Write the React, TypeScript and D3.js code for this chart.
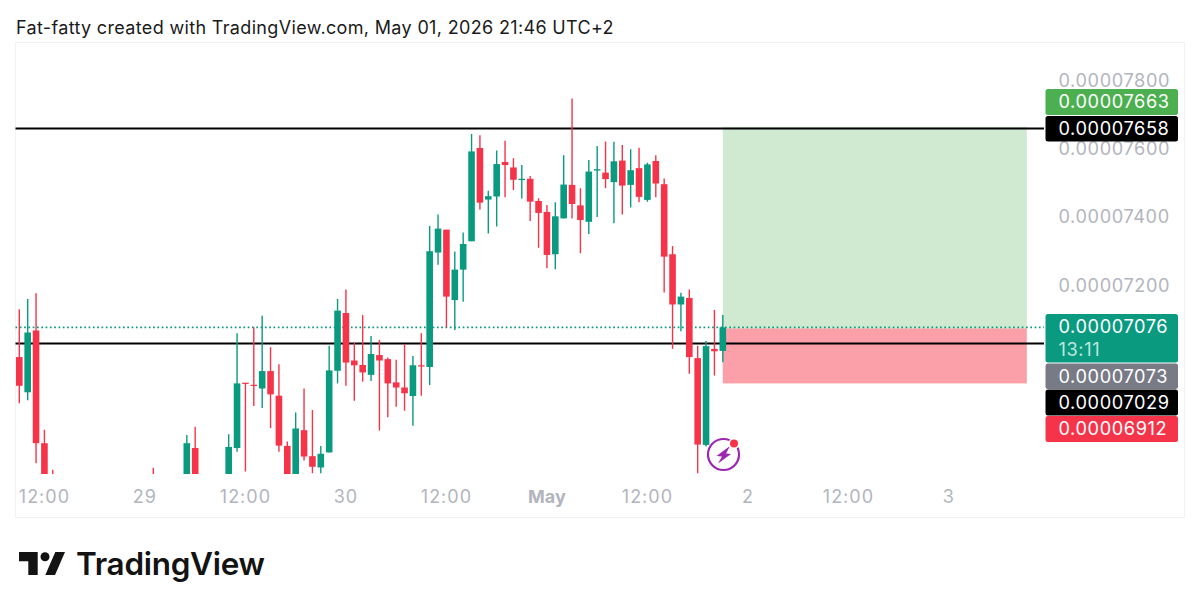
import React from "react";
import * as d3 from "d3";

const TITLE = "Fat-fatty created with TradingView.com, May 01, 2026 21:46 UTC+2";
const FONT = "Inter, 'Noto Sans', sans-serif";

// Prices are in units of 1e-8. Hours off the visible range (below the pane) are omitted.
const hours = [0,1,2,3,4,16,20,21,25,26,27,28,29,30,31,32,33,34,35,36,37,38,39,40,41,42,43,44,45,46,47,48,49,50,51,52,53,54,55,56,57,58,59,60,61,62,63,64,65,66,67,68,69,70,71,72,73,74,75,76,77,78,79,80,81,82,83,84];
const opens = [6989,6886,7067,6737,6640,6640,6620,6723,6610,6723,6914,6908,6897,6948,6876,6729,6610,6775,6699,6666,6710,6949,7118,6979,6966,6937,6995,6983,6915,6900,6875,6965,6960,7295,7362,7156,7245,7328,7601,7450,7459,7560,7544,7507,7511,7446,7414,7290,7395,7493,7433,7385,7535,7529,7501,7564,7493,7542,7449,7563,7495,7290,7143,7162,6986,6732,7013,7007];
const highs = [7129,7159,7176,6776,6659,6665,6761,6785,6763,7059,6914,7076,7110,7018,6968,6742,6827,6897,6834,6729,7022,7159,7187,7031,7112,7051,7039,6988,6981,7027,6992,7059,7373,7406,7362,7298,7354,7642,7638,7476,7594,7622,7571,7551,7519,7454,7434,7442,7580,7746,7483,7566,7607,7620,7619,7610,7597,7602,7558,7580,7512,7314,7177,7187,7022,7036,7127,7112];
const lows = [6854,6863,6678,6560,6590,6600,6600,6590,6600,6712,6654,6846,6840,6781,6712,6590,6590,6686,6649,6649,6710,6912,6905,6861,6917,6919,6774,6813,6844,6832,6788,6876,6907,7259,7076,7068,7151,7328,7421,7351,7371,7457,7478,7453,7387,7309,7249,7246,7395,7395,7293,7349,7399,7483,7381,7406,7427,7442,7444,7457,7178,7013,7065,6940,6649,6727,6935,6974];
const closes = [6905,7061,6737,6600,6610,6620,6737,6610,6726,6912,6911,6905,6948,6880,6730,6610,6780,6698,6668,6706,6950,7125,6973,6965,6944,6998,6979,6912,6900,6883,6965,6962,7299,7365,7166,7245,7320,7591,7441,7460,7554,7551,7508,7511,7444,7411,7288,7401,7494,7437,7390,7532,7539,7510,7562,7491,7536,7458,7553,7497,7283,7143,7166,6989,6733,7021,7006,7076];

const yTicks = [7800, 7600, 7400, 7200];
const xTickHours = [3, 15, 27, 39, 51, 63, 75, 87, 99, 111];
const xTickLabels = ["12:00", "29", "12:00", "30", "12:00", "May", "12:00", "2", "12:00", "3"];

const levelUpper = 7658;
const levelLower = 7029;
const lastPrice = 7076;
const entryPrice = 7073;
const targetPrice = 7663;
const stopPrice = 6912;
const entryHour = 84;
const endHour = 120.3;

const GREEN = "#0A9A80";
const RED = "#F5344A";

const y = d3.scaleLinear().domain([7800, 7200]).range([80, 285]);
const x = d3.scaleLinear().domain([0, 12]).range([19.3, 119.8]);
const fmt = (p: number) => (p * 1e-8).toFixed(8);

const PANE = { left: 15.5, top: 42.5, right: 1184.5, bottom: 517.5, clip: 474, lineEnd: 1044 };
const PRICE_SPACING = 0.6;

function Label({ top, h, fill, price, sub }: { top: number; h: number; fill: string; price: number; sub?: string }) {
  return (
    <g>
      <rect x={1045.5} y={top} width={132.5} height={h} rx={2.5} fill={fill} />
      <text x={1058.5} y={top + 19.3} fill="#fff" fontSize={18.2} fontFamily={FONT} letterSpacing={PRICE_SPACING}>{fmt(price)}</text>
      {sub && <text x={1058.5} y={top + 42} fill="#BFE6DD" fontSize={18.2} fontFamily={FONT} letterSpacing={PRICE_SPACING}>{sub}</text>}
    </g>
  );
}

export default function App() {
  const xs = x(entryHour);
  const xe = x(endHour);
  return (
    <svg width={1200} height={611} style={{ position: "fixed", left: 0, top: 0, background: "#fff" }}>
      <defs>
        <clipPath id="pane"><rect x={PANE.left} y={PANE.top} width={PANE.right - PANE.left} height={PANE.clip - PANE.top} /></clipPath>
      </defs>
      <text x={16} y={34} fontSize={18} fontFamily={FONT} letterSpacing={0.34} fill="#1a1a1a">{TITLE}</text>
      <rect x={PANE.left} y={PANE.top} width={PANE.right - PANE.left} height={PANE.bottom - PANE.top} fill="none" stroke="#F1F2F4" />

      {yTicks.map((t) => (
        <text key={t} x={1058.5} y={y(t) + 6.6} fontSize={18.2} fontFamily={FONT} letterSpacing={PRICE_SPACING} fill="#B2B5BE">{fmt(t)}</text>
      ))}
      {xTickHours.map((h, i) => (
        <text key={h} x={x(h)} y={503} textAnchor="middle" fontSize={18} fontFamily={FONT}
          letterSpacing={xTickLabels[i] === "May" ? 0 : 1}
          fontWeight={xTickLabels[i] === "May" ? 700 : 400} fill="#B2B5BE">{xTickLabels[i]}</text>
      ))}

      <rect x={xs} y={y(targetPrice)} width={xe - xs} height={y(entryPrice) - y(targetPrice)} fill="#D0EAD1" />
      <rect x={xs} y={y(entryPrice)} width={xe - xs} height={y(stopPrice) - y(entryPrice)} fill="#FB9FA8" />

      <line x1={PANE.left} x2={PANE.lineEnd} y1={y(lastPrice)} y2={y(lastPrice)} stroke={GREEN} strokeWidth={1.6} strokeDasharray="1.7 2.6" />
      <line x1={PANE.left} x2={PANE.lineEnd} y1={y(levelUpper)} y2={y(levelUpper)} stroke="#000" strokeWidth={2} />
      <line x1={PANE.left} x2={PANE.lineEnd} y1={y(levelLower)} y2={y(levelLower)} stroke="#000" strokeWidth={2} />

      <g clipPath="url(#pane)">
        {hours.map((h, i) => {
          const o = opens[i], c = closes[i];
          const color = c >= o ? GREEN : RED;
          const top = y(Math.max(o, c));
          const bot = y(Math.min(o, c));
          return (
            <g key={h}>
              <line x1={x(h)} x2={x(h)} y1={y(highs[i])} y2={y(lows[i])} stroke={color} strokeWidth={1.4} />
              <rect x={x(h) - 3.3} y={top} width={6.6} height={Math.max(bot - top, 1.2)} fill={color} />
            </g>
          );
        })}
      </g>

      <g transform="translate(723.5,454.5)">
        <circle r={15.5} fill="none" stroke="#9C27B0" strokeWidth={2.2} />
        <path d="M-7,1.5 L6.5,-8.5 L2.5,-1 L7.5,-0.5 L-5.5,9 L-1.5,2 Z" fill="#9C27B0" />
        <circle cx={10.5} cy={-11} r={5.5} fill="#fff" />
        <circle cx={10.5} cy={-11} r={4} fill={RED} />
      </g>

      <Label top={89} h={26} fill="#4CAF50" price={targetPrice} />
      <Label top={116} h={25.5} fill="#000" price={levelUpper} />
      <Label top={314} h={48.5} fill={GREEN} price={lastPrice} sub="13:11" />
      <Label top={363.5} h={25.5} fill="#787B86" price={entryPrice} />
      <Label top={389.5} h={26} fill="#000" price={levelLower} />
      <Label top={416} h={26} fill={RED} price={stopPrice} />

      <g fill="#131313">
        <path d="M19,552 H37.7 V575 H28.3 V561.3 H19 Z" />
        <circle cx={45} cy={556.7} r={4.5} />
        <path d="M55.3,552 H65 L55,575 H45.3 Z" />
      </g>
      <text x={76} y={575} fontSize={31.5} fontWeight={600} fontFamily={FONT} fill="#131313" letterSpacing={-0.3}>TradingView</text>
    </svg>
  );
}
